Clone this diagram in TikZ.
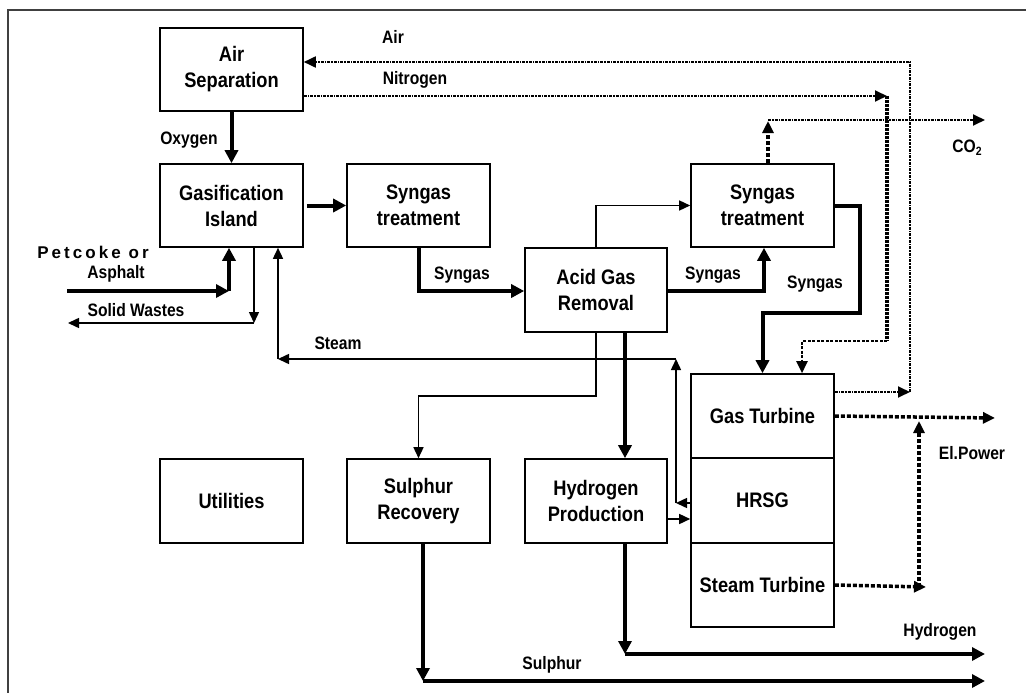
\documentclass[tikz,border=0pt]{standalone}
\usepackage{fontspec}
\setmainfont{Liberation Sans}[FakeStretch=0.87]
\newfontfamily\spacedfont{Liberation Sans}[LetterSpace=18]
\usetikzlibrary{arrows.meta}
\tikzset{
 box/.style={draw, line width=1.6pt, minimum width=143pt, minimum height=83pt, align=center,
   font=\fontsize{21}{26}\selectfont\bfseries, inner sep=0pt},
 lbl/.style={font=\fontsize{18}{21}\selectfont\bfseries, inner sep=0pt},
 thinarr/.style={line width=1.5pt, -{Triangle[length=11pt,width=10pt]}},
 thickarr/.style={line width=4pt, -{Triangle[length=13pt,width=13pt]}},
 dotthin/.style={line width=1.8pt, dash pattern=on 3pt off 1pt on 1.5pt off 1pt},
 dotmed/.style={line width=2.4pt, dash pattern=on 3pt off 1.5pt},
 dotthick/.style={line width=3.5pt, dash pattern=on 4pt off 2pt},
 dotfine/.style={line width=3.5pt, dash pattern=on 3pt off 1pt},
 dtip/.style={-{Triangle[length=12pt,width=11pt]}}
}
\begin{document}
\begin{tikzpicture}[x=1pt,y=-1pt]
\useasboundingbox (0,0) rectangle (1026,693);
\draw[line width=1.5pt, black!75] (8,693) -- (8,10) -- (1026,10);

% boxes
\node[box] (as) at (231.5,69.5) {Air\\Separation};
\node[box] (gi) at (231.5,205.5) {Gasification\\Island};
\node[box] (st1) at (418.5,205.5) {Syngas\\treatment};
\node[box, minimum width=142pt, minimum height=84pt] (agr) at (596,290) {Acid Gas\\Removal};
\node[box] (st2) at (762.5,205.5) {Syngas\\treatment};
\node[box, minimum height=84pt] (gt) at (762.5,416) {Gas Turbine};
\node[box, minimum height=85pt] (hrsg) at (762.5,500.5) {HRSG};
\node[box, minimum height=84pt] (stt) at (762.5,585) {Steam Turbine};
\node[box, minimum height=84pt] (ut) at (231.5,501) {Utilities};
\node[box, minimum height=84pt] (sr) at (418.5,501) {Sulphur\\Recovery};
\node[box, minimum width=142pt, minimum height=84pt] (hp) at (596,501) {Hydrogen\\Production};

% coordinates
\coordinate (pc0) at (67,291);
\coordinate (pc1) at (229,291);
\coordinate (sw1) at (254,323);
\coordinate (sw0) at (68,323);
\coordinate (sa) at (676,503);
\coordinate (sb) at (676,359);
\coordinate (sc) at (278,359);
\coordinate (ag1) at (596,396);
\coordinate (h1) at (625,654);
\coordinate (h2) at (985,654);
\coordinate (s1) at (423,681);
\coordinate (s2) at (985,681);
\coordinate (s2a) at (860,313);
\coordinate (co2a) at (768,121);
\coordinate (co2b) at (768,120);
\coordinate (co2e) at (985,120);
\coordinate (airc) at (910,392);
\coordinate (aira) at (910,62);
\coordinate (n1) at (887,96);
\coordinate (n2) at (887,341);
\coordinate (n3) at (802,341);
\coordinate (ep) at (995,418);
\coordinate (ep2) at (926,587);
\coordinate (ep3) at (919,587);
\coordinate (ep4) at (919,421);

% thick process arrows
\draw[thickarr] (as.south) -- (gi.north);
\draw[thickarr, shorten <=3pt] (gi.east) -- (st1.west);
\draw[thickarr] (st1.south) |- ([yshift=-1pt]agr.west);
\draw[thickarr] ([yshift=-1pt]agr.east) -| ([xshift=1.5pt]st2.south);
\draw[thickarr] (st2.east) -| (s2a) -| (gt.north);
\draw[thickarr] ([xshift=29pt]agr.south) -- ([xshift=29pt]hp.north);
\draw[thickarr] ([xshift=29pt]hp.south) -- (h1);
\draw[thickarr] (h1) -- (h2);
\draw[thickarr] ([xshift=4.5pt]sr.south) -- (s1);
\draw[thickarr] (s1) -- (s2);
\draw[thickarr] (pc0) -- (pc1);
\draw[thickarr] (pc1) -- (gi.south -| pc1);

% thin arrows
\draw[thinarr] (agr.north) |- (st2.west);
\draw[thinarr] (agr.south) -- (ag1) -| (sr.north);
\draw[thinarr] (gi.south -| sw1) -- (sw1);
\draw[thinarr] (sw1) -- (sw0);
\draw[thinarr] (hrsg.west |- sa) -- (sa);
\draw[thinarr] (sa) -- (sb);
\draw[thinarr] (sb) -- (sc);
\draw[thinarr] (sc) -- (gi.south -| sc);
\draw[thinarr] ([yshift=-18pt]hp.east) -- ([yshift=-18pt]hp.east -| hrsg.west);

% dotted flows
\draw[dotthin, dtip] (gt.east |- airc) -- (airc);
\draw[dotthin, dtip] (airc) -- (aira) -- (as.east |- aira);
\draw[dotthin, dtip] (as.east |- n1) -- (n1);
\draw[dotfine] (n1) -- (n2);
\draw[dotmed, dtip] (n2) -- (n3) -- (gt.north -| n3);
\draw[dotthick, dtip] ([xshift=5.5pt]st2.north) -- (co2a);
\draw[dotthin, dtip] (co2b) -- (co2e);
\draw[dotthick, dtip] (gt.east) -- (ep);
\draw[dotthick, dtip] (stt.east) -- (ep2);
\draw[dotthick, dtip] (ep3) -- (ep4);

% labels
\node[lbl] (loxy) at (189,140) {Oxygen};
\node[lbl] (lair) at (393,37) {Air};
\node[lbl] (lnit) at (415,80) {Nitrogen};
\node[lbl] (lsg1) at (462,275) {Syngas};
\node[lbl] (lsg2) at (713,275) {Syngas};
\node[lbl] (lsg3) at (815,284) {Syngas};
\node[lbl] (lco2) at (967,148) {CO\raisebox{-0.35ex}{\fontsize{12}{14}\selectfont 2}};
\node[lbl, font=\fontsize{17}{20}\selectfont\bfseries\spacedfont] (lpet) at (93,252) {Petcoke or};
\node[lbl] (lasp) at (116,274) {Asphalt};
\node[lbl] (lsw) at (136,310) {Solid Wastes};
\node[lbl] (lstm) at (338,343) {Steam};
\node[lbl] (lel) at (972,453) {El.Power};
\node[lbl] (lh2) at (940,632) {Hydrogen};
\node[lbl] (ls) at (552,665) {Sulphur};
\end{tikzpicture}
\end{document}
